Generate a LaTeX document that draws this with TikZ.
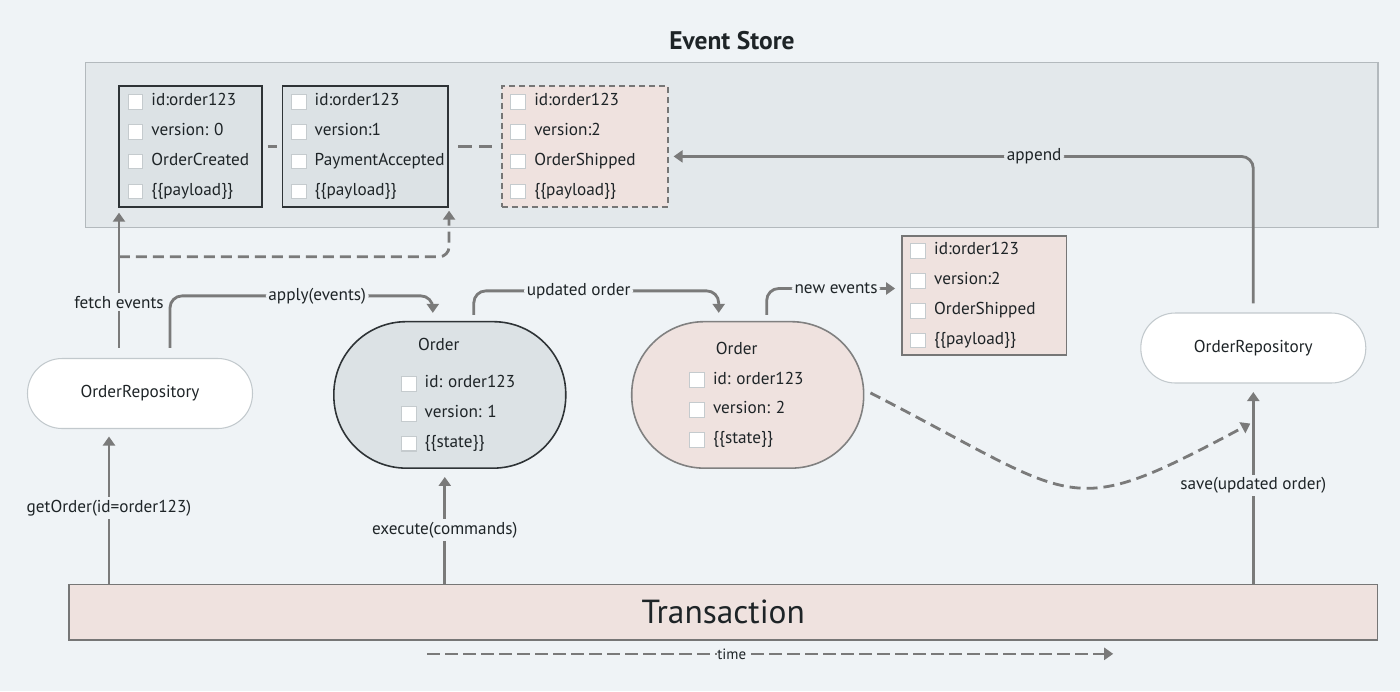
\documentclass[tikz,border=0pt]{standalone}
\usepackage{fontspec}
\setmainfont{PT Sans}
\usetikzlibrary{arrows.meta,calc}

\definecolor{bgc}{HTML}{EFF3F6}
\definecolor{storefill}{HTML}{E3E8EB}
\definecolor{storeline}{HTML}{B3B9BD}
\definecolor{evfill}{HTML}{DCE2E5}
\definecolor{evline}{HTML}{2E3336}
\definecolor{pinkfill}{HTML}{EFE2DF}
\definecolor{pinkline}{HTML}{767676}
\definecolor{oline}{HTML}{808080}
\definecolor{repoline}{HTML}{C2C9CD}
\definecolor{arrc}{HTML}{7A7A7A}
\definecolor{txt}{HTML}{1E2427}
\definecolor{cbline}{HTML}{C5CBCE}

\frenchspacing
\setlength{\fboxsep}{0pt}
\setlength{\fboxrule}{0.6pt}
\newcommand{\cb}[1]{\mbox{\raisebox{-1.7pt}{\fcolorbox{cbline}{white}{\rule{0pt}{7.8pt}\rule{7.8pt}{0pt}}}\kern4.6pt#1}}

\begin{document}
\begin{tikzpicture}[x=0.02cm, y=-0.02cm,
    base/.style={font=\fontsize{9.8}{17}\selectfont, text=txt},
    store/.style={draw=storeline, fill=storefill, line width=0.8pt, minimum width=25.85cm, minimum height=3.3cm},
    evbox/.style={base, draw=evline, fill=evfill, line width=0.9pt, inner xsep=0.17cm, minimum height=2.42cm, align=left},
    newbox/.style={evbox, draw=pinkline, fill=pinkfill},
    order/.style={base, rectangle, rounded corners=1.45cm, minimum width=4.64cm, minimum height=2.93cm, line width=0.9pt, align=left},
    repo/.style={base, draw=repoline, fill=white, rounded corners=0.69cm, minimum width=4.5cm, minimum height=1.4cm, line width=0.6pt},
    trans/.style={draw=pinkline, fill=pinkfill, line width=1pt, minimum width=26.18cm, minimum height=1.11cm, text=txt, font=\fontsize{19}{21}\selectfont},
    lbl/.style={base, fill=bgc, inner sep=1.5pt},
    arr/.style={draw=arrc, line width=1.6pt, -{Triangle[width=0.24cm,length=0.18cm]}},
    darr/.style={arr, dash pattern=on 0.22cm off 0.12cm},
    link/.style={draw=arrc, line width=1.6pt}
  ]
    \fill[bgc] (0,0) rectangle (1400,691);
    \useasboundingbox (0,0) rectangle (1400,691);

    % Event store
    \node[font=\bfseries\fontsize{14.5}{16}\selectfont, text=txt] (title) at (732,41) {Event Store};
    \node[store] (store) at (731.7,145.2) {};
    \node[evbox, text width=2.52cm] (ev1) at (190.5,146.4) {\cb{id:order123}\\ \cb{version: 0}\\ \cb{OrderCreated}\\ \cb{\{\{payload\}\}}};
    \node[evbox, text width=2.98cm] (ev2) at (365.3,146.4) {\cb{id:order123}\\ \cb{version:1}\\ \cb{PaymentAccepted}\\ \cb{\{\{payload\}\}}};
    \node[newbox, dashed, dash pattern=on 0.12cm off 0.08cm, line width=0.8pt, text width=2.98cm] (ev3) at (584.9,146.4) {\cb{id:order123}\\ \cb{version:2}\\ \cb{OrderShipped}\\ \cb{\{\{payload\}\}}};
    \draw[link, shorten <=0.1cm, shorten >=0.1cm] (ev1) -- (ev2);
    \draw[link, dash pattern=on 0.28cm off 0.14cm, shorten <=0.18cm, shorten >=0.18cm] (ev2) -- (ev3);

    % Repositories and orders
    \node[repo] (lrepo) at (140,393.5) {OrderRepository};
    \node[repo] (rrepo) at (1253.3,348) {OrderRepository};
    \node[order, draw=evline, fill=evfill, text width=1.96cm] (o1) at (449.8,394.9) {\hspace*{9.8pt}Order\\[4.2pt] \cb{id: order123}\\ \cb{version: 1}\\ \cb{\{\{state\}\}}};
    \node[order, draw=oline, fill=pinkfill, text width=2.34cm] (o2) at (747.7,394.9) {\hspace*{15.2pt}Order\\ \cb{id: order123}\\ \cb{version: 2}\\ \cb{\{\{state\}\}}};
    \node[newbox, line width=0.8pt, text width=2.96cm, minimum height=2.38cm] (nev) at (984.3,295.5) {\cb{id:order123}\\ \cb{version:2}\\ \cb{OrderShipped}\\ \cb{\{\{payload\}\}}};

    % Transaction
    \node[trans] (trans) at (723.2,612.2) {Transaction};

    % Arrows
    \path ($(lrepo.south)+(-31,0)$) coordinate (getA);
    \path ($(lrepo.north)+(-21,-10)$) coordinate (fetchA);
    \path ($(lrepo.north)+(30,-10)$) coordinate (applyA);
    \path ($(o1.south)+(-5,0)$) coordinate (execA);

    \draw[arr, shorten >=0.15cm] (getA |- trans.north) -- (getA) node[lbl, pos=0.49] {getOrder(id=order123)};
    \draw[arr, shorten >=0.1cm] (fetchA) -- (fetchA |- ev1.south) node[lbl, pos=0.326] {fetch events} coordinate[pos=0.65] (fetchB);
    \draw[darr, rounded corners=0.2cm, shorten >=0.06cm] (fetchB) -| (ev2.south east);
    \draw[arr, rounded corners=0.24cm] (applyA) |- node[lbl, pos=0.78] {apply(events)} ($(o1.north)+(-17,-25)$) -- ($(o1.north)+(-17,-8)$);
    \draw[arr, rounded corners=0.24cm] ($(o1.north)+(24,-6)$) |- node[lbl, pos=0.714] {updated order} ($(o2.north)+(-29,-30)$) -- ($(o2.north)+(-29,-8)$);
    \draw[arr, rounded corners=0.24cm] ($(o2.north)+(19,-6)$) |- node[lbl, pos=0.77] {new events} ($(nev.west)+(-6,-7)$);
    \draw[arr, rounded corners=0.24cm] ($(rrepo.north)+(0,-9)$) |- node[lbl, fill=storefill, pos=0.689] {append} ($(ev3.east)+(5,10)$);
    \draw[arr, shorten >=0.16cm] (execA |- trans.north) -- (execA) node[lbl, pos=0.467] {execute(commands)};
    \draw[arr, shorten >=0.17cm] (trans.north -| rrepo.south) -- (rrepo.south) node[lbl, pos=0.49] {save(updated order)};
    \draw[darr] ($(o2.east)+(6,-2)$) .. controls (1083,502) and (1064,523) .. ($(rrepo.south)+(-3,40)$);
    \draw[darr, line width=1.3pt, dash pattern=on 0.26cm off 0.1cm] ($(trans.south)+(-296,13)$) -- node[lbl, inner sep=0.5pt, font=\fontsize{8.5}{10}\selectfont, pos=0.444] {time} ($(trans.south)+(390,13)$);
\end{tikzpicture}
\end{document}
